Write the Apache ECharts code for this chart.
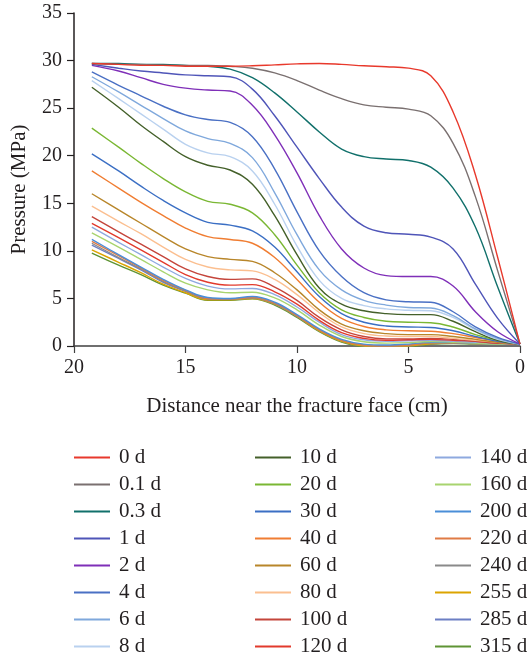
<!DOCTYPE html>
<html>
<head>
<meta charset="utf-8">
<script src="https://cdn.jsdelivr.net/npm/echarts@6/dist/echarts.min.js"></script>
<style>
  html, body { margin: 0; padding: 0; background: #fff; }
  #chart { width: 528px; height: 657px; }
</style>
</head>
<body>
<div id="chart"></div>
<script>
// distance from fracture face (cm)
const distance = [19.2, 18, 17, 16, 15, 14, 13, 12, 11, 10, 9, 8, 7, 6, 5, 4, 3, 2, 1, 0];

const seriesNames = ['0 d', '0.1 d', '0.3 d', '1 d', '2 d', '4 d', '6 d', '8 d',
  '10 d', '20 d', '30 d', '40 d', '60 d', '80 d', '100 d', '120 d',
  '140 d', '160 d', '200 d', '220 d', '240 d', '255 d', '285 d', '315 d'];

const colors = ['#e8392c', '#7a7070', '#11706b', '#4f55b8', '#7f2fb8', '#4a70c4', '#7fa8dc', '#b9d1ef',
  '#44602a', '#7ab733', '#3b6fc4', '#f07d32', '#b8862a', '#fbbf90', '#c4453b', '#e23a2c',
  '#8ea9df', '#a8d46f', '#4a8ed8', '#e07b45', '#8a8a8a', '#dca400', '#6c7fc4', '#5f9434'];

// pressure (MPa)
const p0d   = [29.7, 29.6, 29.5, 29.5, 29.4, 29.4, 29.4, 29.45, 29.55, 29.65, 29.7, 29.6, 29.45, 29.35, 29.2, 28.4, 24.6, 18.0, 9.3, 0.2];
const p01d  = [29.7, 29.6, 29.6, 29.5, 29.5, 29.5, 29.4, 29.2, 28.7, 27.9, 26.9, 26.0, 25.35, 25.1, 24.9, 24.2, 21.3, 15.7, 7.9, 0.2];
const p03d  = [29.7, 29.7, 29.6, 29.6, 29.5, 29.4, 29.1, 28.2, 26.6, 24.6, 22.5, 20.7, 19.9, 19.65, 19.5, 18.8, 16.6, 12.5, 6.2, 0.2];
const p1d   = [29.6, 29.2, 28.9, 28.7, 28.5, 28.4, 28.3, 27.0, 24.2, 20.9, 17.6, 14.6, 12.6, 11.9, 11.75, 11.45, 10.2, 6.5, 2.9, 0.2];
const p2d   = [29.5, 28.9, 28.2, 27.5, 27.1, 26.9, 26.8, 25.3, 22.2, 18.2, 13.7, 10.2, 8.2, 7.4, 7.3, 7.3, 6.3, 3.6, 1.5, 0.2];
const p4d   = [28.8, 27.4, 26.3, 25.2, 24.3, 23.8, 23.5, 22.0, 18.6, 14.1, 10.0, 7.3, 5.6, 4.85, 4.65, 4.6, 3.6, 2.0, 0.9, 0.2];
const p6d   = [28.3, 26.7, 25.3, 23.9, 22.6, 21.8, 21.3, 19.8, 16.1, 11.7, 8.0, 5.9, 4.8, 4.3, 4.05, 4.0, 3.2, 1.8, 0.8, 0.2];
const p8d   = [27.9, 26.0, 24.4, 22.8, 21.2, 20.3, 19.9, 18.4, 14.9, 10.5, 6.9, 5.0, 4.25, 3.9, 3.75, 3.7, 3.0, 1.7, 0.7, 0.2];
const p10d  = [27.2, 25.1, 23.2, 21.5, 19.9, 19.0, 18.5, 17.0, 13.7, 9.6, 6.1, 4.4, 3.7, 3.4, 3.3, 3.3, 2.6, 1.5, 0.6, 0.2];
const p20d  = [22.9, 20.9, 19.2, 17.6, 16.2, 15.2, 14.9, 14.0, 11.7, 8.5, 5.6, 3.8, 3.0, 2.6, 2.5, 2.45, 2.0, 1.2, 0.6, 0.2];
const p30d  = [20.2, 18.4, 16.8, 15.3, 14.0, 13.0, 12.7, 12.1, 10.4, 7.8, 5.2, 3.4, 2.5, 2.1, 2.0, 1.95, 1.6, 1.0, 0.5, 0.2];
const p40d  = [18.4, 16.6, 15.1, 13.7, 12.4, 11.5, 11.2, 10.8, 9.3, 7.0, 4.6, 2.9, 2.05, 1.7, 1.6, 1.55, 1.3, 0.9, 0.5, 0.2];
const p60d  = [16.0, 14.3, 12.9, 11.5, 10.2, 9.4, 9.1, 8.9, 7.7, 5.9, 3.8, 2.3, 1.6, 1.3, 1.2, 1.2, 1.0, 0.7, 0.4, 0.2];
const p80d  = [14.7, 13.1, 11.8, 10.4, 9.1, 8.3, 8.0, 7.9, 7.0, 5.4, 3.5, 2.0, 1.3, 1.05, 1.0, 1.0, 0.8, 0.6, 0.4, 0.2];
const p100d = [13.6, 12.0, 10.7, 9.4, 8.1, 7.3, 7.0, 7.05, 6.2, 4.8, 3.0, 1.7, 1.0, 0.75, 0.75, 0.8, 0.7, 0.5, 0.3, 0.2];
const p120d = [12.9, 11.4, 10.1, 8.8, 7.5, 6.7, 6.4, 6.45, 5.7, 4.4, 2.7, 1.4, 0.8, 0.6, 0.65, 0.7, 0.6, 0.5, 0.3, 0.2];
const p140d = [12.5, 10.9, 9.6, 8.3, 7.1, 6.3, 6.0, 6.05, 5.4, 4.1, 2.5, 1.2, 0.65, 0.5, 0.55, 0.6, 0.5, 0.4, 0.3, 0.2];
const p160d = [11.9, 10.4, 9.1, 7.8, 6.6, 5.9, 5.6, 5.65, 5.05, 3.8, 2.2, 1.0, 0.45, 0.3, 0.35, 0.48, 0.4, 0.3, 0.2, 0.2];
const p200d = [11.2, 9.6, 8.3, 7.0, 5.9, 5.1, 5.0, 5.2, 4.6, 3.3, 1.8, 0.7, 0.2, 0.1, 0.2, 0.4, 0.4, 0.3, 0.2, 0.2];
const p220d = [11.0, 9.5, 8.2, 6.9, 5.85, 5.0, 4.95, 5.1, 4.5, 3.2, 1.7, 0.6, 0.1, 0.0, 0.1, 0.33, 0.35, 0.3, 0.2, 0.2];
const p240d = [10.8, 9.3, 8.1, 6.8, 5.8, 4.95, 4.9, 5.05, 4.45, 3.15, 1.7, 0.6, 0.1, 0.0, 0.1, 0.3, 0.3, 0.25, 0.2, 0.2];
const p255d = [10.1, 8.8, 7.7, 6.5, 5.6, 4.85, 4.85, 5.0, 4.4, 3.1, 1.6, 0.5, 0.0, -0.1, 0.0, 0.23, 0.3, 0.25, 0.2, 0.2];
const p285d = [10.6, 9.2, 8.0, 6.7, 5.75, 4.9, 4.9, 5.05, 4.4, 3.1, 1.6, 0.5, 0.0, -0.1, 0.0, 0.23, 0.3, 0.25, 0.2, 0.2];
const p315d = [9.75, 8.5, 7.5, 6.4, 5.55, 4.8, 4.8, 4.95, 4.3, 3.0, 1.5, 0.4, -0.1, -0.2, -0.1, 0.18, 0.25, 0.2, 0.2, 0.2];

const pressures = [p0d, p01d, p03d, p1d, p2d, p4d, p6d, p8d,
  p10d, p20d, p30d, p40d, p60d, p80d, p100d, p120d,
  p140d, p160d, p200d, p220d, p240d, p255d, p285d, p315d];

const yTicks = [0, 35, 5];   // min, max, step
const xTicks = [0, 20, 5];

const FONT = 'Liberation Serif';
const TEXT = '#231f20';

const chart = echarts.init(document.getElementById('chart'));

const series = pressures.map((vals, i) => ({
  name: seriesNames[i],
  type: 'line',
  smooth: 0.4,
  symbol: 'none',
  data: vals.map((v, j) => [distance[j], v]),
  lineStyle: { color: colors[i], width: 1.4 },
  itemStyle: { color: colors[i] },
  z: 30 - i
}));

// three legend columns, 8 rows each
const legendLeft = [74, 255, 435];
const legends = legendLeft.map((left, c) => ({
  data: seriesNames.slice(c * 8, c * 8 + 8),
  orient: 'vertical',
  left: left,
  top: 447,
  height: 240,
  padding: 0,
  icon: 'rect',
  itemWidth: 36,
  itemHeight: 2,
  itemGap: 6,
  textStyle: { fontFamily: FONT, fontSize: 21, color: TEXT, lineHeight: 20, padding: [0, 0, 0, 4] }
}));

chart.setOption({
  animation: false,
  backgroundColor: '#fff',
  grid: { left: 74, right: 2, top: 13, bottom: 311, containLabel: false },
  legend: legends,
  xAxis: {
    type: 'value',
    inverse: true,
    min: xTicks[0],
    max: xTicks[1],
    interval: xTicks[2],
    name: 'Distance near the fracture face (cm)',
    nameLocation: 'middle',
    nameGap: 50,
    nameTextStyle: { fontFamily: FONT, fontSize: 21, color: TEXT },
    axisLine: { onZero: false, lineStyle: { color: '#404040', width: 1.5 } },
    axisTick: { length: 7, lineStyle: { color: '#404040', width: 1.2 } },
    axisLabel: { fontFamily: FONT, fontSize: 20, color: TEXT, margin: 12 },
    splitLine: { show: false }
  },
  yAxis: {
    type: 'value',
    min: yTicks[0],
    max: yTicks[1],
    interval: yTicks[2],
    name: 'Pressure (MPa)',
    nameLocation: 'middle',
    nameGap: 44,
    nameTextStyle: { fontFamily: FONT, fontSize: 21, color: TEXT, padding: [0, 20, 0, 0] },
    axisLine: { show: true, onZero: false, lineStyle: { color: TEXT, width: 1.5 } },
    axisTick: { show: true, length: 7, lineStyle: { color: TEXT, width: 1.2 } },
    axisLabel: { fontFamily: FONT, fontSize: 20, color: TEXT, margin: 12 },
    splitLine: { show: false }
  },
  series: series
});
</script>
</body>
</html>
